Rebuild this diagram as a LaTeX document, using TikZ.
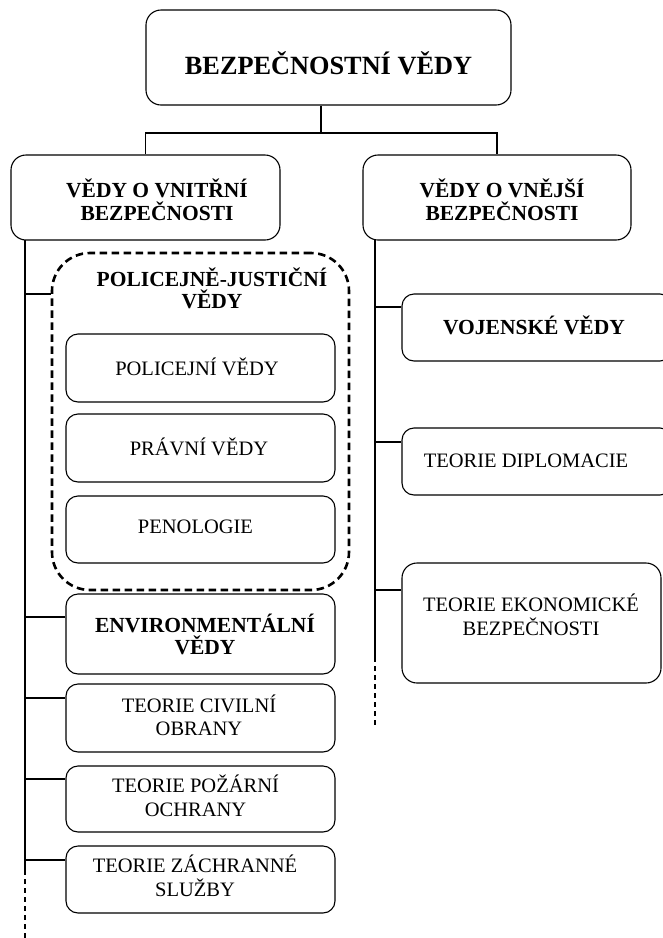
\documentclass[tikz,border=0pt]{standalone}
\usepackage{fontspec}
\setmainfont{Liberation Serif}
\begin{document}
\begin{tikzpicture}[x=1pt, y=-1pt,
    box/.style={draw, line width=1.1pt, rounded corners=12pt, inner sep=0pt},
    bigbox/.style={box, rounded corners=15pt},
    groupbox/.style={draw, line width=2.6pt, dash pattern=on 7.5pt off 4.5pt, rounded corners=38pt, inner sep=0pt},
    link/.style={line width=1.1pt},
    openend/.style={line width=1.3pt, dash pattern=on 5pt off 4pt},
    txt/.style={align=center, inner sep=0pt, font=\fontsize{20.5}{23.5}\selectfont},
    btxt/.style={align=center, inner sep=0pt, font=\fontsize{21.5}{23.5}\selectfont\bfseries}]
            \useasboundingbox (0,0) rectangle (662,938);
            %% Anchors
            \node[bigbox, minimum width=365pt, minimum height=95pt]
                (bezp) at (328.5, 57.5) {};
            \node[bigbox, minimum width=269pt, minimum height=85pt]
                (vnitr) at (145.5, 197.5) {};
            \node[bigbox, minimum width=268pt, minimum height=85pt]
                (vnejs) at (497, 197.5) {};
            \node[groupbox, minimum width=297pt, minimum height=337pt]
                (policejne) at (200.5, 421.5) {};
            \node[box, minimum width=269pt, minimum height=68pt]
                (police) at (200.5, 368) {};
            \node[box, minimum width=269pt, minimum height=68pt]
                (pravo) at (200.5, 448) {};
            \node[box, minimum width=269pt, minimum height=67pt]
                (peno) at (200.5, 529.5) {};
            \node[box, minimum width=269pt, minimum height=80pt]
                (env) at (200.5, 634) {};
            \node[box, minimum width=269pt, minimum height=68pt]
                (civil) at (200.5, 718) {};
            \node[box, minimum width=269pt, minimum height=66pt]
                (pozar) at (200.5, 799) {};
            \node[box, minimum width=269pt, minimum height=67pt]
                (zachr) at (200.5, 879.5) {};
            \node[box, minimum width=270pt, minimum height=67pt]
                (vojen) at (537, 327.5) {};
            \node[box, minimum width=270pt, minimum height=67pt]
                (diplo) at (537, 461.5) {};
            \node[bigbox, minimum width=259pt, minimum height=120pt]
                (ekon) at (531.5, 623) {};
            %% Connectors
            \coordinate (split) at (321, 133);
            \draw[link] (split |- bezp.south) -- (split);
            \draw[link] (vnitr.north) |- (split) -| (vnejs.north);
            \coordinate (lspine) at (25, 240);
            \coordinate (lend) at (25, 870);
            \coordinate (lfree) at (25, 938);
            \draw[link] (lspine) -- (lend);
            \draw[openend] (lend) -- (lfree);
            \foreach \name/\y in {policejne/294, env/617, civil/698, pozar/779, zachr/860} {
                \coordinate (b) at (25, \y);
                \draw[link] (b) -- (b -| \name.west);
            }
            \coordinate (rspine) at (375, 240);
            \coordinate (rend) at (375, 657);
            \coordinate (rfree) at (375, 725);
            \draw[link] (rspine) -- (rend);
            \draw[openend] (rend) -- (rfree);
            \foreach \name/\y in {vojen/307, diplo/442, ekon/590} {
                \coordinate (b) at (375, \y);
                \draw[link] (b) -- (b -| \name.west);
            }
            %% Text Nodes
            \node[align=center, font=\fontsize{26.3}{30}\selectfont\bfseries] at (328.5, 63) (bezptxt) {BEZPEČNOSTNÍ VĚDY};
            \node[btxt] at (157, 200) (vnitrtxt) {VĚDY O VNITŘNÍ\\BEZPEČNOSTI};
            \node[btxt] at (502, 200) (vnejstxt) {VĚDY O VNĚJŠÍ\\BEZPEČNOSTI};
            \node[btxt, font=\fontsize{21.5}{22}\selectfont\bfseries] at (212, 288) (policejnetxt) {POLICEJNĚ-JUSTIČNÍ\\VĚDY};
            \node[txt] at (197, 367) (policetxt) {POLICEJNÍ VĚDY};
            \node[txt] at (199, 447) (pravotxt) {PRÁVNÍ VĚDY};
            \node[txt] at (195.5, 527) (penotxt) {PENOLOGIE};
            \node[btxt, font=\fontsize{21.5}{22}\selectfont\bfseries] at (205, 634) (envtxt) {ENVIRONMENTÁLNÍ\\VĚDY};
            \node[txt] at (199, 715.5) (civiltxt) {TEORIE CIVILNÍ\\OBRANY};
            \node[txt] at (195.5, 796) (pozartxt) {TEORIE POŽÁRNÍ\\OCHRANY};
            \node[txt] at (195, 876) (zachrtxt) {TEORIE ZÁCHRANNÉ\\SLUŽBY};
            \node[btxt] at (534, 325) (vojentxt) {VOJENSKÉ VĚDY};
            \node[txt] at (526, 461) (diplotxt) {TEORIE DIPLOMACIE};
            \node[txt] at (531, 615) (ekontxt) {TEORIE EKONOMICKÉ\\BEZPEČNOSTI};
\end{tikzpicture}
\end{document}
